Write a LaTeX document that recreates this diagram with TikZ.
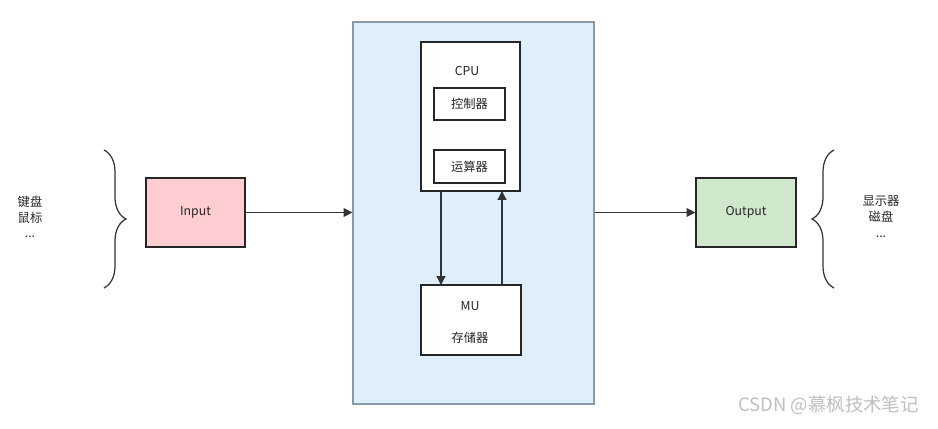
\documentclass[tikz,border=0pt]{standalone}
\usepackage{fontspec}
\setmainfont{Noto Sans CJK SC}
\usetikzlibrary{arrows.meta,decorations.pathreplacing}
\definecolor{memblue}{HTML}{DEEEFB}
\definecolor{inpink}{HTML}{FFCDD2}
\definecolor{outgreen}{HTML}{CFE8CC}
\definecolor{frame}{HTML}{8A9AA8}

\tikzset{
  box/.style={draw=black!85, line width=0.7pt, minimum width=#1, inner sep=0pt},
  txt/.style={font=\fontsize{7}{9}\selectfont, text=black!85},
  link/.style={-{Triangle[length=5pt,width=5pt]}, line width=0.7pt, black!80},
  curly/.style={decorate, decoration={brace, amplitude=0.44cm}, line width=0.7pt, black!80}
}

\begin{document}
\begin{tikzpicture}[x=0.02cm, y=-0.02cm, txt]
\useasboundingbox (0,0) rectangle (938,429);

% Main frame
\node[box=4.82cm, draw=frame, fill=memblue, minimum height=7.64cm] (host) at (473.5,213) {};

% CPU with its parts
\node[box=1.98cm, fill=white, minimum height=2.98cm] (cpu) at (470.5,116.5) {};
\node (cpulabel) at (467,71) {CPU};
\node[box=1.42cm, fill=white, minimum height=0.64cm] (ctrl) at (469.5,104) {控制器};
\node[box=1.42cm, fill=white, minimum height=0.66cm] (alu) at (469.5,166.5) {运算器};

% Memory
\node[box=2cm, fill=white, minimum height=1.4cm] (mu) at (471,320) {};
\node (mulabel) at (470,306) {MU};
\node (mutext) at (470,338) {存储器};

% Input and output
\node[box=1.98cm, fill=inpink, minimum height=1.38cm] (input) at (195.5,212.5) {Input};
\node[box=2cm, fill=outgreen, minimum height=1.38cm] (output) at (746,212.5) {Output};

% Connectors
\coordinate (cpuD) at (441,191);
\coordinate (muD) at (441,285);
\coordinate (muU) at (502,285);
\coordinate (cpuU) at (502,191);
\draw[link] (cpuD) -- (muD);
\draw[link] (muU) -- (cpuU);
\draw[link] (input.east) -- (host.west |- input.east);
\draw[link] (host.east |- output.west) -- (output.west);

% Braces and devices
\coordinate (lbT) at (104,150);
\coordinate (lbB) at (104,288);
\coordinate (rbT) at (834,150);
\coordinate (rbB) at (834,288);
\draw[curly] (lbT) -- (lbB);
\draw[curly] (rbB) -- (rbT);
\node[align=center] (indev) at (30,217) {键盘\\鼠标\\...};
\node[align=center] (outdev) at (881,217) {显示器\\磁盘\\...};

% Watermark
\node[font=\fontsize{10.5}{12}\selectfont, text=black!25, anchor=east] (mark) at (925,405) {CSDN @慕枫技术笔记};
\end{tikzpicture}
\end{document}
